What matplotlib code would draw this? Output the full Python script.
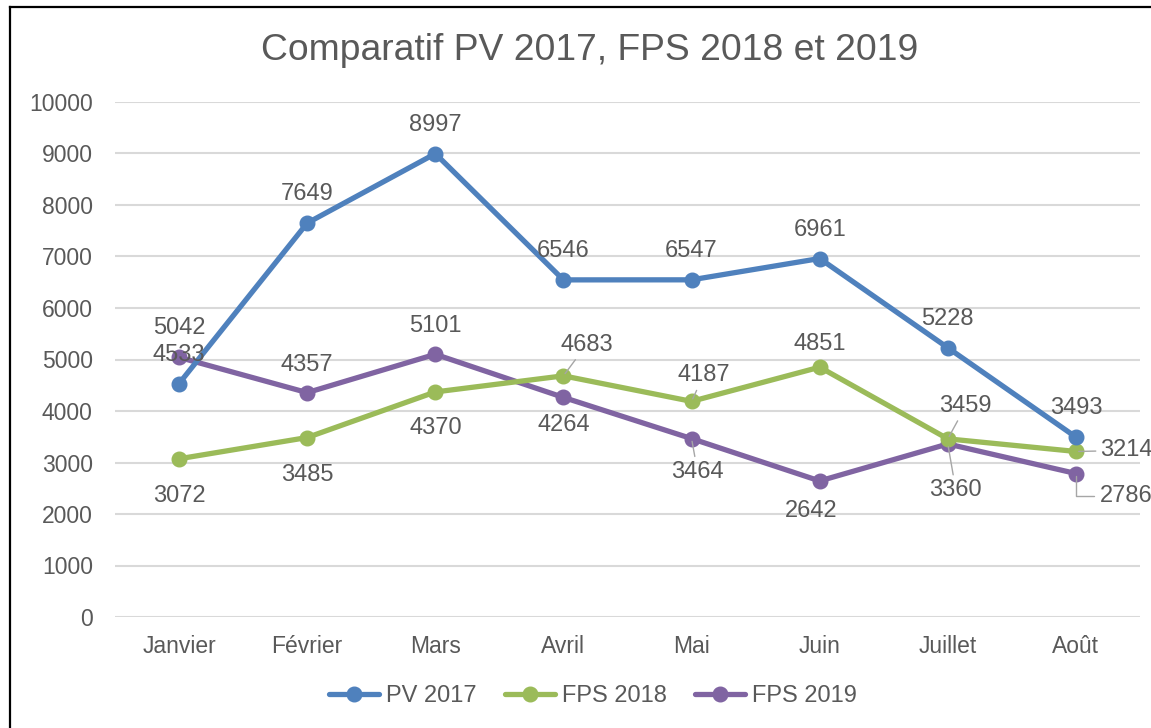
import matplotlib
matplotlib.use("Agg")
import matplotlib.pyplot as plt
from matplotlib.lines import Line2D

plt.rcParams['font.family'] = ['Liberation Sans', 'DejaVu Sans']

months = ["Janvier", "Février", "Mars", "Avril", "Mai", "Juin", "Juillet", "Août"]
pv_2017 = [4533, 7649, 8997, 6546, 6547, 6961, 5228, 3493]
fps_2018 = [3072, 3485, 4370, 4683, 4187, 4851, 3459, 3214]
fps_2019 = [5042, 4357, 5101, 4264, 3464, 2642, 3360, 2786]
series_names = ["PV 2017", "FPS 2018", "FPS 2019"]
y_ticks = [0, 1000, 2000, 3000, 4000, 5000, 6000, 7000, 8000, 9000, 10000]

colors = ["#4f81bd", "#9bbb59", "#8064a2"]
text_color = "#595959"
grid_color = "#d9d9d9"
leader_color = "#a6a6a6"

# label layout: (dx, dy, ha, leader) in pixels
layout = {
    0: [(0, 29, 'center', None)] * 8,
    1: [(0, -37, 'center', None), (0, -37, 'center', None), (0, -36, 'center', None),
        (23, 31, 'center', 'straight'), (12, 26, 'center', 'straight'), (0, 23, 'center', None),
        (18, 33, 'center', 'straight'), (24, 1, 'left', 'straight')],
    2: [(0, 29, 'center', None), (0, 28, 'center', None), (0, 28, 'center', None),
        (0, -28, 'center', None), (6, -33, 'center', 'straight'), (-8, -30, 'center', None),
        (8, -46, 'center', 'straight'), (24, -22, 'left', 'elbow')],
}

fig = plt.figure(figsize=(11.51, 7.28), dpi=100)
ax = fig.add_axes([115/1151, 1-617/728, (1140-115)/1151, (617-102)/728])

x = list(range(len(months)))
all_series = [pv_2017, fps_2018, fps_2019]
for s_i, (vals, name, c) in enumerate(zip(all_series, series_names, colors)):
    ax.plot(x, vals, color=c, lw=3.8, marker='o', markersize=10.5, label=name,
            solid_capstyle='round', zorder=3 + (2 - s_i) * 0.1)

for s_i, vals in enumerate(all_series):
    for i, v in enumerate(vals):
        dx, dy, ha, leader = layout[s_i][i]
        kw = {}
        if leader == 'straight':
            kw['arrowprops'] = dict(arrowstyle='-', color=leader_color, lw=1.0,
                                    shrinkA=1, shrinkB=2)
        elif leader == 'elbow':
            kw['arrowprops'] = dict(arrowstyle='-', color=leader_color, lw=1.0,
                                    shrinkA=2, shrinkB=2,
                                    connectionstyle="angle,angleA=0,angleB=90,rad=0",
                                    relpos=(0, 0.5))
        ax.annotate(str(v), xy=(i, v), xytext=(dx, dy), textcoords='offset pixels',
                    ha=ha, va='center', fontsize=17, color=text_color, zorder=6,
                    annotation_clip=False, **kw)

ax.set_xlim(-0.5, 7.5)
ax.set_ylim(0, 10000)
ax.set_yticks(y_ticks)
ax.set_xticks(x)
ax.set_xticklabels(months)
ax.tick_params(axis='y', length=0, pad=16, labelsize=16.5, labelcolor=text_color)
ax.tick_params(axis='x', length=0, pad=13, labelsize=16.5, labelcolor=text_color)
ax.grid(axis='y', color=grid_color, lw=1.5, zorder=0)
ax.set_axisbelow(True)
for sp in ax.spines.values():
    sp.set_visible(False)

fig.text(590/1151, 1-51/728, "Comparatif PV 2017, FPS 2018 et 2019", ha='center', va='center',
         fontsize=26.8, color=text_color)

leg = fig.legend(loc='center', bbox_to_anchor=(593/1151, 1-696/728), ncol=3, frameon=False,
                 fontsize=17, handlelength=2.1, handletextpad=0.3, columnspacing=1.2,
                 labelcolor=text_color)

# outer frame (left and top edges)
fig.add_artist(Line2D([9.5/1151, 9.5/1151], [0, 1-6.5/728], color='black', lw=1.6,
                      transform=fig.transFigure))
fig.add_artist(Line2D([9.5/1151, 1], [1-6.5/728, 1-6.5/728], color='black', lw=1.6,
                      transform=fig.transFigure))

fig.savefig("out.png", dpi=100)
